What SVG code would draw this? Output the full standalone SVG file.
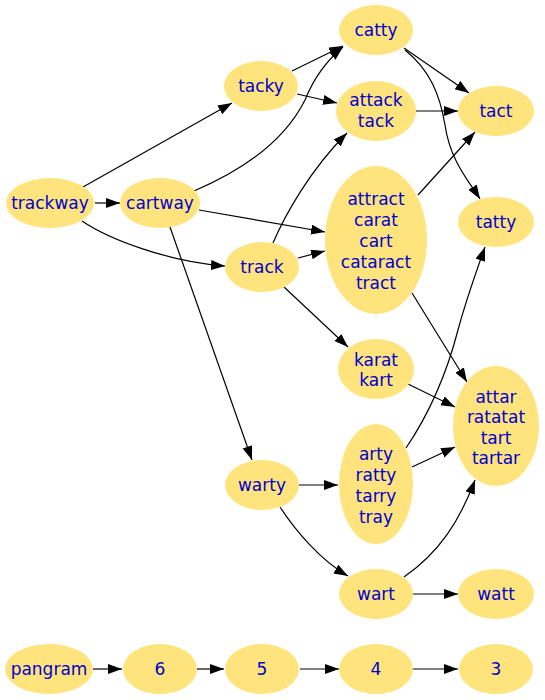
<svg xmlns="http://www.w3.org/2000/svg" width="545" height="700" viewBox="0 0 545 700">
<style>
.n ellipse{fill:#ffe37c;stroke:none}
.n text{font-family:"DejaVu Sans",Verdana,sans-serif;font-size:17px;fill:#0000cd;text-anchor:middle}
.e path{fill:none;stroke:#000;stroke-width:1.2;marker-end:url(#ah)}
</style>
<defs>
<marker id="ah" markerUnits="userSpaceOnUse" markerWidth="15" markerHeight="11" refX="14" refY="5" orient="auto">
<path d="M0,0 L14,5 L0,10 z" fill="#000"/>
</marker>
</defs>
<rect width="545" height="700" fill="#fff"/>
<g id="edges" class="e">
<path d="M83,187 L232,103"/>
<path d="M95,203 L120,203"/>
<path d="M82,221 C110,240 170,262 225,266"/>
<path d="M194,191 C260,163 290,130 305,100 C313,80 325,62 343,47"/>
<path d="M292,71 L343,46"/>
<path d="M297,94 L337,103"/>
<path d="M404,48 L469,93"/>
<path d="M405,50 C430,70 440,95 445,125 C450,160 468,180 480,199"/>
<path d="M416,111 L458,111"/>
<path d="M273,243 C285,215 310,170 347,133"/>
<path d="M199,210 L325,232"/>
<path d="M298,258 L325,251"/>
<path d="M170,227 L252,460"/>
<path d="M284,287 L348,347"/>
<path d="M406,448 C425,420 445,380 458,330 C466,300 475,275 485,247"/>
<path d="M412,293 L467,382"/>
<path d="M418,195 L475,132"/>
<path d="M408,384 L455,407"/>
<path d="M412,467 L455,447"/>
<path d="M299,485 L338,485"/>
<path d="M280,507 C295,530 320,560 348,576"/>
<path d="M404,577 C440,552 460,520 475,480"/>
<path d="M413,594 L458,594"/>
<path d="M93,669 L122,669"/>
<path d="M197,669 L224,669"/>
<path d="M300,669 L339,669"/>
<path d="M413,669 L458,669"/>
</g>
<g id="trackway" class="n"><ellipse cx="50" cy="203" rx="44" ry="25"/><text x="50" y="209">trackway</text></g>
<g id="cartway" class="n"><ellipse cx="160" cy="203" rx="40" ry="25"/><text x="160" y="209">cartway</text></g>
<g id="tacky" class="n"><ellipse cx="261" cy="86" rx="37" ry="25"/><text x="261" y="92">tacky</text></g>
<g id="track" class="n"><ellipse cx="262" cy="267" rx="37" ry="25"/><text x="262" y="273">track</text></g>
<g id="catty" class="n"><ellipse cx="376" cy="30" rx="37" ry="25"/><text x="376" y="36">catty</text></g>
<g id="attack" class="n"><ellipse cx="376" cy="111" rx="40" ry="30"/><text x="376" y="106">attack</text><text x="376" y="127">tack</text></g>
<g id="tact" class="n"><ellipse cx="496" cy="111" rx="38" ry="25"/><text x="496" y="117">tact</text></g>
<g id="attract" class="n"><ellipse cx="376" cy="240" rx="51" ry="74"/><text x="376" y="205">attract</text><text x="376" y="226">carat</text><text x="376" y="247">cart</text><text x="376" y="268">cataract</text><text x="376" y="289">tract</text></g>
<g id="tatty" class="n"><ellipse cx="496" cy="222" rx="38" ry="25"/><text x="496" y="228">tatty</text></g>
<g id="karat" class="n"><ellipse cx="376" cy="369" rx="38" ry="30"/><text x="376" y="366">karat</text><text x="376" y="386">kart</text></g>
<g id="attar" class="n"><ellipse cx="496" cy="426" rx="43" ry="60"/><text x="496" y="403">attar</text><text x="496" y="423">ratatat</text><text x="496" y="444">tart</text><text x="496" y="464">tartar</text></g>
<g id="arty" class="n"><ellipse cx="376" cy="484" rx="37" ry="60"/><text x="376" y="460">arty</text><text x="376" y="481">ratty</text><text x="376" y="502">tarry</text><text x="376" y="523">tray</text></g>
<g id="warty" class="n"><ellipse cx="262" cy="485" rx="37" ry="25"/><text x="262" y="491">warty</text></g>
<g id="wart" class="n"><ellipse cx="376" cy="594" rx="37" ry="25"/><text x="376" y="600">wart</text></g>
<g id="watt" class="n"><ellipse cx="496" cy="594" rx="38" ry="25"/><text x="496" y="600">watt</text></g>
<g id="pangram" class="n"><ellipse cx="49" cy="669" rx="44" ry="25"/><text x="49" y="675">pangram</text></g>
<g id="n6" class="n"><ellipse cx="160" cy="669" rx="37" ry="25"/><text x="160" y="675">6</text></g>
<g id="n5" class="n"><ellipse cx="262" cy="669" rx="37" ry="25"/><text x="262" y="675">5</text></g>
<g id="n4" class="n"><ellipse cx="376" cy="669" rx="37" ry="25"/><text x="376" y="675">4</text></g>
<g id="n3" class="n"><ellipse cx="496" cy="669" rx="37" ry="25"/><text x="496" y="675">3</text></g>
</svg>
